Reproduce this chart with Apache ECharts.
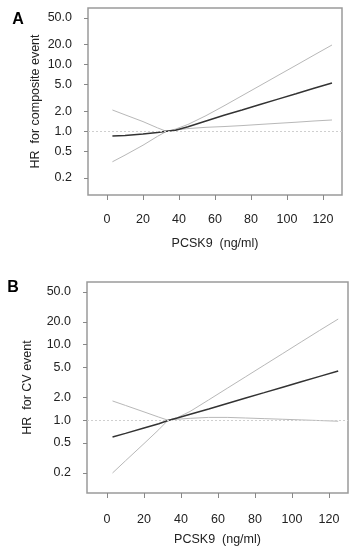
<!DOCTYPE html>
<html><head><meta charset="utf-8">
<script src="https://cdn.jsdelivr.net/npm/echarts@6/dist/echarts.min.js"></script>
<style>html,body{margin:0;padding:0;background:#fff}#c{width:358px;height:550px}</style>
</head><body><div id="c"></div>
<script>
// PCSK9 (ng/ml) positions where curves are read
const pcsk9 = [3, 10, 20, 28, 33, 38, 45, 55, 65, 75, 85, 95, 105, 115, 125];
// Panel A: HR for composite event
const compositeHR    = [0.85, 0.87, 0.91, 0.96, 1.0, 1.04, 1.17, 1.43, 1.74, 2.09, 2.52, 3.04, 3.66, 4.42, 5.3];
const compositeUpper = [2.09, 1.77, 1.40, 1.13, 1.0, 1.08, 1.27, 1.72, 2.41, 3.42, 4.85, 6.89, 9.77, 13.9, 19.7];
const compositeLower = [0.35, 0.44, 0.62, 0.84, 1.0, 1.05, 1.10, 1.15, 1.18, 1.22, 1.27, 1.32, 1.37, 1.43, 1.48];
// Panel B: HR for CV event
const cvHR    = [0.60, 0.67, 0.79, 0.90, 0.99, 1.07, 1.20, 1.41, 1.67, 1.97, 2.32, 2.74, 3.23, 3.81, 4.5];
const cvUpper = [1.80, 1.57, 1.29, 1.10, 1.0, 1.08, 1.31, 1.86, 2.65, 3.77, 5.37, 7.64, 10.9, 15.5, 21.9];
const cvLower = [0.20, 0.29, 0.49, 0.75, 1.0, 1.03, 1.06, 1.09, 1.09, 1.07, 1.05, 1.03, 1.01, 0.99, 0.97];
// Tick labels
const xTicks = [0, 20, 40, 60, 80, 100, 120];
const yTicks = [0.2, 0.5, 1, 2, 5, 10, 20, 50];
const refHR = 1;

const FONT = 'Liberation Sans, Arial, sans-serif';
const lg = v => Math.log10(v);
const pairs = ys => pcsk9.map((x, i) => [x, lg(ys[i])]);

function xAxis(gi, min, max, margin, nameGap) {
  return {
    type: 'value', gridIndex: gi, min: min, max: max,
    axisLine: {show: false, onZero: false},
    splitLine: {show: false},
    axisTick: {show: true, customValues: xTicks, length: 5, lineStyle: {color: '#888', width: 1}},
    axisLabel: {customValues: xTicks, margin: margin, color: '#222', fontFamily: FONT, fontSize: 12.5},
    name: 'PCSK9  (ng/ml)', nameLocation: 'middle', nameGap: nameGap, nameMoveOverlap: false,
    nameTextStyle: {color: '#222', fontFamily: FONT, fontSize: 12.5}
  };
}
function yAxis(gi, min, max, name, nameGap) {
  const ticks = yTicks.map(lg);
  return {
    type: 'value', gridIndex: gi, min: min, max: max,
    axisLine: {show: false, onZero: false},
    splitLine: {show: false},
    axisTick: {show: true, customValues: ticks, length: 4, lineStyle: {color: '#888', width: 1}},
    axisLabel: {customValues: ticks, margin: 16, color: '#222', fontFamily: FONT, fontSize: 12.5,
      formatter: v => Math.pow(10, v).toFixed(1)},
    name: name, nameLocation: 'middle', nameGap: nameGap, nameMoveOverlap: false,
    nameTextStyle: {color: '#222', fontFamily: FONT, fontSize: 12.5}
  };
}
function ciSeries(gi, ys) {
  return {type: 'line', xAxisIndex: gi, yAxisIndex: gi, data: pairs(ys), showSymbol: false,
    smooth: false, lineStyle: {color: '#b8b8b8', width: 1}, silent: true};
}
function mainSeries(gi, ys) {
  return {type: 'line', xAxisIndex: gi, yAxisIndex: gi, data: pairs(ys), showSymbol: false,
    smooth: false, lineStyle: {color: '#333', width: 1.5}, silent: true, z: 3,
    markLine: {silent: true, symbol: ['none', 'none'], label: {show: false},
      lineStyle: {type: [2, 2], color: '#cfcfcf', width: 1},
      data: [{yAxis: lg(refHR)}]}};
}

const chart = echarts.init(document.getElementById('c'), null, {renderer: 'canvas'});
chart.setOption({
  backgroundColor: '#fff',
  animation: false,
  grid: [
    {show: true, left: 88, top: 8, width: 254, height: 187, borderColor: '#9a9a9a', borderWidth: 1.5, outerBoundsMode: 'none'},
    {show: true, left: 87, top: 282, width: 261, height: 211, borderColor: '#9a9a9a', borderWidth: 1.5, outerBoundsMode: 'none'}
  ],
  xAxis: [xAxis(0, -10.56, 130.56, 18, 42), xAxis(1, -10.8, 130.3, 20, 40)],
  yAxis: [yAxis(0, -0.954, 1.849, 'HR  for composite event', 46),
          yAxis(1, -0.964, 1.831, 'HR  for CV event', 53)],
  graphic: [
    {type: 'text', x: 18, y: 20, style: {text: 'A', font: 'bold 16px ' + FONT, fill: '#000', align: 'center', verticalAlign: 'middle'}},
    {type: 'text', x: 13, y: 288, style: {text: 'B', font: 'bold 16px ' + FONT, fill: '#000', align: 'center', verticalAlign: 'middle'}}
  ],
  series: [
    ciSeries(0, compositeUpper), ciSeries(0, compositeLower), mainSeries(0, compositeHR),
    ciSeries(1, cvUpper), ciSeries(1, cvLower), mainSeries(1, cvHR)
  ]
});
</script></body></html>
